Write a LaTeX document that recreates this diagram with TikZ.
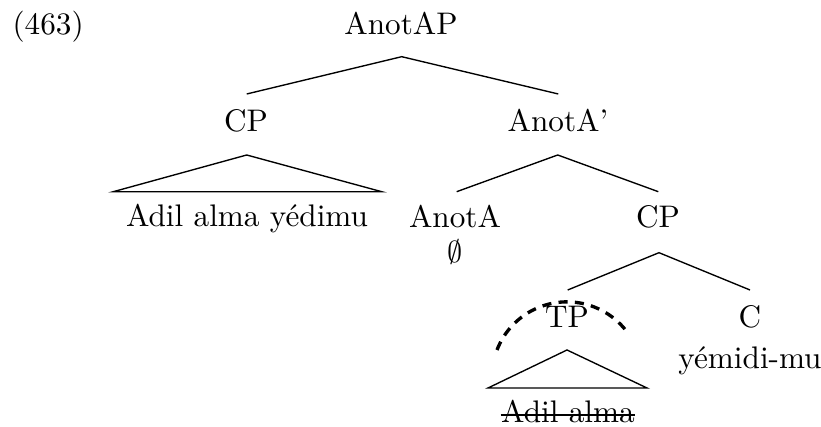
\documentclass[tikz,border=0pt]{standalone}
\usetikzlibrary{calc}
\begin{document}
\begin{tikzpicture}[x=0.33pt,y=-0.33pt,
  font=\fontsize{10.3}{12.4}\selectfont,
  lbl/.style={anchor=base,inner sep=0pt},
  edge/.style={line width=0.45pt},
  movearc/.style={line width=1.1pt,dash pattern=on 3pt off 2.4pt}]
\useasboundingbox (0,0) rectangle (821,427);
% labels
\node[lbl,anchor=base west] (ex) at (12,35) {(463)};
\node[lbl] (root) at (401,35) {AnotAP};
\node[lbl] (cpa) at (246,132) {CP};
\node[lbl] (abar) at (558,132) {AnotA'};
\node[lbl] (cpatext) at (247,227) {Adil alma yédimu};
\node[lbl] (anota) at (455,228) {AnotA};
\node[lbl] (empty) at (455,263) {$\emptyset$};
\node[lbl] (cpb) at (658,228) {CP};
\node[lbl] (tp) at (567,328) {TP};
\node[lbl] (c) at (750,328) {C};
\node[lbl] (cword) at (750,369) {yémidi-mu};
\node[lbl] (tptext) at (568,423) {Adil alma};
% attachment points
\coordinate (rootb) at (401.7,56.7);
\coordinate (cpat) at (246.7,94);
\coordinate (abart) at (558.3,94);
\coordinate (cpab) at (246.7,155);
\coordinate (triL1) at (113.3,191.7);
\coordinate (triR1) at (381.7,191.7);
\coordinate (abarb) at (557.7,155);
\coordinate (anotat) at (456.7,191.7);
\coordinate (cpbt) at (658.3,191.7);
\coordinate (cpbb) at (659,252.7);
\coordinate (tpt) at (567.7,290);
\coordinate (ct) at (750,290);
\coordinate (tpb) at (567,350);
\coordinate (triL2) at (488,388);
\coordinate (triR2) at (647,388);
\coordinate (arcstart) at (497,350);
% edges
\draw[edge] (cpat) -- (rootb) -- (abart);
\draw[edge] (triL1) -- (cpab) -- (triR1) -- cycle;
\draw[edge] (anotat) -- (abarb) -- (cpbt);
\draw[edge] (tpt) -- (cpbb) -- (ct);
\draw[edge] (triL2) -- (tpb) -- (triR2) -- cycle;
% strike-through
\draw[edge,line width=0.5pt] ($(tptext.base west)+(0,-8)$) -- ($(tptext.base east)+(0,-8)$);
% dashed arc over TP
\draw[movearc] (arcstart) arc[start angle=-159, end angle=-36, radius=75];
\end{tikzpicture}
\end{document}
